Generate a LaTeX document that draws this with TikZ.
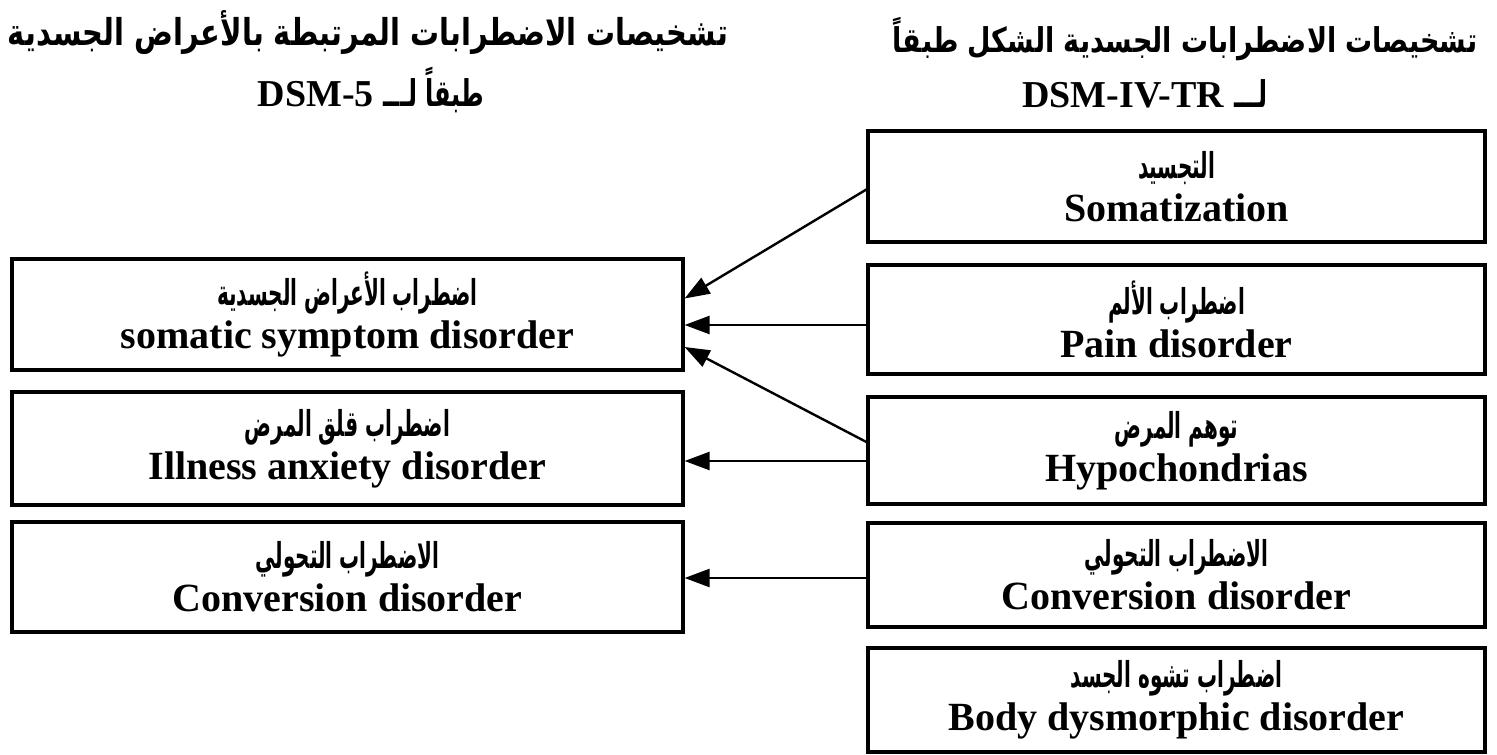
\documentclass[tikz,border=0pt]{standalone}
\usepackage{fontspec}
\usepackage{graphicx}
\setmainfont{Liberation Serif}
\newfontfamily\arabicfont[Script=Arabic]{DejaVu Sans}
\TeXXeTstate=1
\usetikzlibrary{arrows.meta,calc}
\newcommand\arline[1]{\scalebox{0.74}[1.32]{\arabicfont\bfseries\fontsize{27}{30}\selectfont\beginR #1\endR}}
\newcommand\bxt[2]{\arline{#1}\\[-3pt]{\bfseries\fontsize{40}{46}\selectfont #2}}
\newcommand\dsm[1]{{\rmfamily\bfseries\fontsize{38}{40}\selectfont #1}}
\newcommand\arhead[1]{\scalebox{0.75}[1.15]{\arabicfont\bfseries\fontsize{32}{36}\selectfont\beginR #1\endR}}
\begin{document}
\begin{tikzpicture}[x=1pt,y=-1pt,
  box/.style={draw, line width=3.2pt, align=center, inner sep=0pt, font=\fontsize{40}{46}\selectfont},
  arr/.style={line width=2.4pt, -{Triangle[length=25pt,width=18pt]}},
  head/.style={inner sep=0pt}]
\useasboundingbox (0,0) rectangle (1497,755);
% headers
\node[head] (hl1) at (368,33) {\resizebox*{720pt}{44pt}{\arabicfont\bfseries\fontsize{32}{36}\selectfont\beginR تشخيصات الاضطرابات المرتبطة بالأعراض الجسدية\endR}};
\node[head] (hl2) at (371,90) {\dsm{DSM-5}\hspace{10pt}\arhead{طبقاً لـــ}};
\node[head] (hr1) at (1185,39) {\resizebox*{585pt}{44pt}{\arabicfont\bfseries\fontsize{32}{36}\selectfont\beginR تشخيصات الاضطرابات الجسدية الشكل طبقاً\endR}};
\node[head] (hr2) at (1145,94) {\dsm{DSM-IV-TR}\hspace{10pt}\arhead{لـــ}};
% right column
\node[box, minimum width=617pt, minimum height=111pt] (soma) at (1176.5,186.5) {\bxt{التجسيد}{Somatization}};
\node[box, minimum width=617pt, minimum height=109pt] (pain) at (1176.5,319.5) {\bxt{اضطراب الألم}{Pain disorder}};
\node[box, minimum width=617pt, minimum height=107pt] (hypo) at (1176.5,450.5) {\bxt{توهم المرض}{Hypochondrias}};
\node[box, minimum width=617pt, minimum height=104pt] (convR) at (1176.5,575) {\bxt{الاضطراب التحولي}{Conversion disorder}};
\node[box, minimum width=617pt, minimum height=104pt] (body) at (1176.5,700) {\bxt{اضطراب تشوه الجسد}{Body dysmorphic disorder}};
% left column
\node[box, minimum width=671pt, minimum height=111pt] (somatic) at (347.5,314.5) {\bxt{اضطراب الأعراض الجسدية}{somatic symptom disorder}};
\node[box, minimum width=671pt, minimum height=113pt] (ill) at (347.5,448.5) {\bxt{اضطراب قلق المرض}{Illness anxiety disorder}};
\node[box, minimum width=671pt, minimum height=110pt] (convL) at (347.5,577) {\bxt{الاضطراب التحولي}{Conversion disorder}};
% connectors
\draw[arr] ([yshift=-3pt]soma.west) -- ([yshift=16pt]somatic.east);
\draw[arr] ([yshift=-5.5pt]pain.west) -- ([yshift=-5.5pt]pain.west -| somatic.east);
\draw[arr] ([yshift=8.5pt]hypo.west) -- ([yshift=-32.5pt]somatic.east);
\draw[arr] ([yshift=-10.5pt]hypo.west) -- ([yshift=-10.5pt]hypo.west -| ill.east);
\draw[arr] ([yshift=-3pt]convR.west) -- ([yshift=-3pt]convR.west -| convL.east);
\end{tikzpicture}
\end{document}
